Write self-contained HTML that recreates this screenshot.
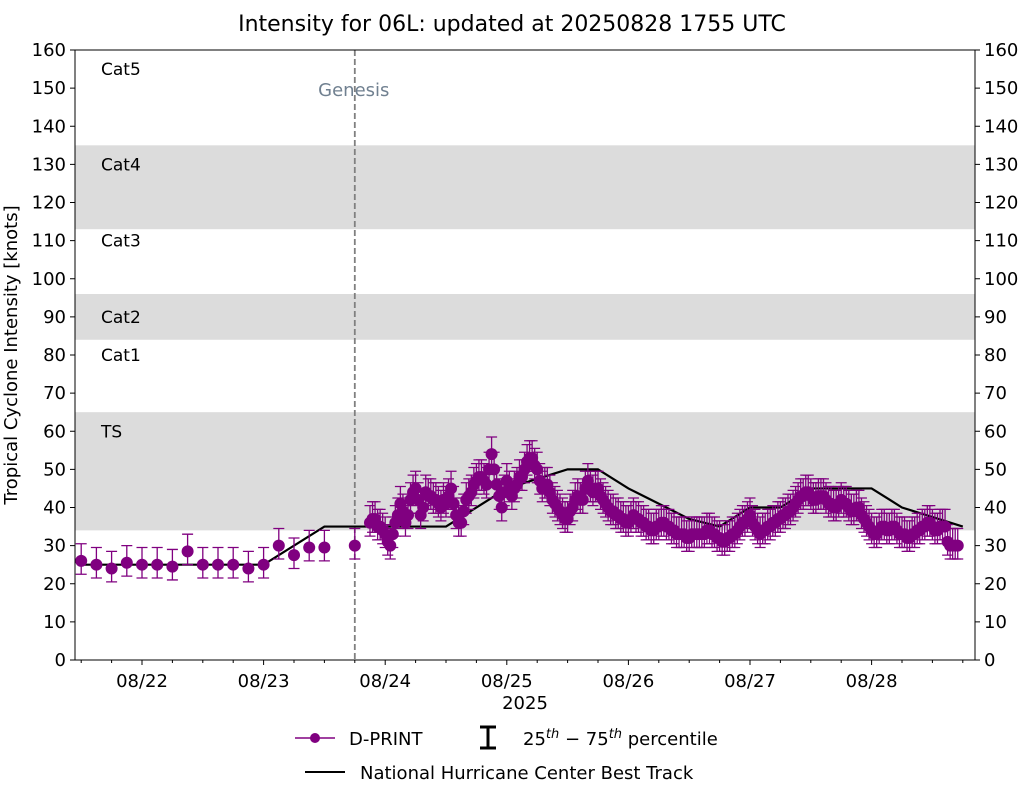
<!DOCTYPE html>
<html><head><meta charset="utf-8"><style>
body{margin:0;background:#fff;font-family:"Liberation Sans","DejaVu Sans",sans-serif}
svg text{font-family:"DejaVu Sans","Liberation Sans",sans-serif}
</style></head><body>
<svg id="c" width="1025" height="785" xmlns="http://www.w3.org/2000/svg"></svg>
<script>
const bandLo=[34,84,113];
const bandHi=[65,96,135];
const catNames=["Cat5","Cat4","Cat3","Cat2","Cat1","TS"];
const catVals=[155,130,110,90,80,60];
const dayLabels=["08/22","08/23","08/24","08/25","08/26","08/27","08/28"];
const dayHours=[0,24,48,72,96,120,144];
const yTicks=[0,10,20,30,40,50,60,70,80,90,100,110,120,130,140,150,160];
const genesisHour=42;
const btHours=[-12,24,36,60,72,84,90,96,108,114,120,126,132,144,150,162];
const btVals=[25,25,35,35,45,50,50,45,37,35,40,40,45,45,40,35];
const dpHours=[-12,-9,-6,-3,0,3,6,9,12,15,18,21,24,27,30,33,36,42,
45,45.5,46,46.5,47,47.5,48,48.5,49,49.5,50,50.5,51,51.5,52,52.5,53,53.5,54,54.5,55,55.5,56,56.5,57,57.5,58,58.5,59,59.5,60,60.5,61,61.5,62,62.5,63,63.5,64,64.5,65,65.5,66,66.5,67,67.5,68,68.5,69,69.5,70,70.5,71,71.5,72,72.5,73,73.5,74,74.5,75,75.5,76,76.5,77,77.5,78,78.5,79,79.5,80,80.5,81,81.5,82,82.5,83,83.5,84,84.5,85,85.5,86,86.5,87,87.5,88,88.5,89,89.5,90,90.5,91,91.5,92,92.5,93,93.5,94,94.5,95,95.5,96,96.5,97,97.5,98,98.5,99,99.5,100,100.5,101,101.5,102,102.5,103,103.5,104,104.5,105,105.5,106,106.5,107,107.5,108,108.5,109,109.5,110,110.5,111,111.5,112,112.5,113,113.5,114,114.5,115,115.5,116,116.5,117,117.5,118,118.5,119,119.5,120,120.5,121,121.5,122,122.5,123,123.5,124,124.5,125,125.5,126,126.5,127,127.5,128,128.5,129,129.5,130,130.5,131,131.5,132,132.5,133,133.5,134,134.5,135,135.5,136,136.5,137,137.5,138,138.5,139,139.5,140,140.5,141,141.5,142,142.5,143,143.5,144,144.5,145,145.5,146,146.5,147,147.5,148,148.5,149,149.5,150,150.5,151,151.5,152,152.5,153,153.5,154,154.5,155,155.5,156,156.5,157,157.5,158,158.5,159,159.5,160,160.5,161];
const dpVals=[26,25,24,25.5,25,25,24.5,28.5,25,25,25,24,25,30,27.5,29.5,29.5,30,
36,37,37,35,35,34,33,31,30,33,36,38,41,39,36,38,42,44,45,42,38,40,44,43,43,42,42,41,40,42,41,43,45,41,38,36,36,39,42,43,44,46,47,48,48,47,46,50,54,50,46,43,40,44,47,45,43,45,46,48,48,50,52,53,53,51,50,47,45,46,46,44,42,41,40,39,38,37,37,39,40,42,43,42,42,45,47,45,44,45,45,43,42,41,40,39,39,38,38,37,37,36,36,37,38,37,37,36,36,35,35,34,34,35,35,36,36,35,35,34,34,33,33,33,33,32,32,33,33,33,33,33,33,34,34,33,33,32,32,31,31,32,32,33,33,34,35,36,36,37,38,36,35,34,33,34,34,35,35,36,36,37,37,38,38,39,39,40,41,42,43,43,44,44,43,42,42,43,43,43,42,41,41,40,40,41,42,41,41,40,39,39,40,40,38,37,36,35,34,33,33,34,35,35,34,34,35,35,34,33,33,33,32,32,33,33,34,34,35,35,36,36,35,34,34,35,35,35,31,30,30,30,30,31,30,29,29,32,31,30];
const dpLoOff=[3.5];
const dpHiOff=[4.5];

const svg=document.getElementById('c');
const NS="http://www.w3.org/2000/svg";
const L=75,R=975,T=50,B=660;
const xh=h=>142+h*121.6/24;
const yv=v=>B-(v/160)*(B-T);
function el(tag,a,parent){const e=document.createElementNS(NS,tag);for(const k in a)e.setAttribute(k,a[k]);(parent||svg).appendChild(e);return e;}

const bands=el('g',{});


bandLo.forEach((lo,i)=>{const r=el('rect',{x:L,y:yv(bandHi[i]),width:R-L,height:yv(lo)-yv(bandHi[i]),fill:'#dcdcdc'},bands);

});
catNames.forEach((n,i)=>{const t=el('text',{x:101,y:yv(catVals[i])+6,'font-size':17},bands);t.textContent=n;

});

const g=el('line',{x1:xh(genesisHour),x2:xh(genesisHour),y1:T,y2:B,stroke:'#808080','stroke-width':1.8,'stroke-dasharray':'6,3'});


const gt=el('text',{x:xh(genesisHour)-1,y:96,'font-size':18,fill:'#708090','text-anchor':'middle'});gt.textContent='Genesis';



const bt=el('polyline',{points:btHours.map((h,i)=>xh(h)+','+yv(btVals[i])).join(' '),fill:'none',stroke:'#000','stroke-width':2.2});



const dp=el('g',{});


dpHours.forEach((h,i)=>{const x=xh(h),v=dpVals[i];const lo=yv(v-dpLoOff[0]),hi=yv(v+dpHiOff[0]);
const eb=el('path',{d:`M${x},${lo}V${hi}M${x-5.5},${lo}H${x+5.5}M${x-5.5},${hi}H${x+5.5}`,stroke:'#800080','stroke-width':1.3,fill:'none'},dp);

});
dpHours.forEach((h,i)=>{const c=el('circle',{cx:xh(h),cy:yv(dpVals[i]),r:6,fill:'#800080'},dp);

});

const fr=el('rect',{x:L,y:T,width:R-L,height:B-T,fill:'none',stroke:'#000','stroke-width':1});



yTicks.forEach(v=>{const y=yv(v);
el('line',{x1:L-5,x2:L,y1:y,y2:y,stroke:'#000'});el('line',{x1:R,x2:R+5,y1:y,y2:y,stroke:'#000'});
const a=el('text',{x:L-9,y:y+6,'font-size':18,'text-anchor':'end'});a.textContent=v;


const b=el('text',{x:R+9,y:y+6,'font-size':18});b.textContent=v;

});
for(let h=-12;h<=162;h+=6){const x=xh(h);if(x<L||x>R)continue;const major=dayHours.includes(h);
el('line',{x1:x,x2:x,y1:B,y2:B+(major?5:3),stroke:'#000'});}
dayLabels.forEach((d,i)=>{const t=el('text',{x:xh(dayHours[i]),y:B+27,'font-size':18,'text-anchor':'middle'});t.textContent=d;

});
const yr=el('text',{x:525,y:709,'font-size':18,'text-anchor':'middle'});yr.textContent='2025';


const yt=el('text',{x:17,y:355,'font-size':18,'text-anchor':'middle',transform:'rotate(-90 17 355)'});yt.textContent='Tropical Cyclone Intensity [knots]';


const ti=el('text',{x:512,y:31,'font-size':22,'text-anchor':'middle'});ti.textContent='Intensity for 06L: updated at 20250828 1755 UTC';



const lg=el('g',{});


el('line',{x1:295,x2:335,y1:738,y2:738,stroke:'#800080','stroke-width':1.5},lg);
el('circle',{cx:315,cy:738,r:5,fill:'#800080'},lg);
const l1=el('text',{x:349,y:745,'font-size':18},lg);l1.textContent='D-PRINT';


el('path',{d:'M488,727V748M480,727H496M480,748H496',stroke:'#000','stroke-width':3,fill:'none'},lg);
const l2=el('text',{x:523,y:745,'font-size':18},lg);
l2.innerHTML='25<tspan font-style="italic" font-size="13" dy="-7">th</tspan><tspan dy="7"> − 75</tspan><tspan font-style="italic" font-size="13" dy="-7">th</tspan><tspan dy="7"> percentile</tspan>';


el('line',{x1:305,x2:345,y1:772,y2:772,stroke:'#000','stroke-width':2},lg);
const l3=el('text',{x:360,y:779,'font-size':18},lg);l3.textContent='National Hurricane Center Best Track';


</script>
</body></html>
